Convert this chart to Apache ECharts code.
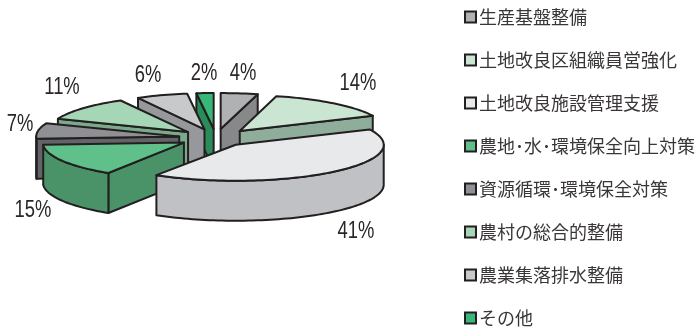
<!DOCTYPE html>
<html>
<head>
<meta charset="utf-8">
<style>html,body{margin:0;padding:0;background:#fff}#chart{width:699px;height:327px}</style>
<script src="https://cdn.jsdelivr.net/npm/echarts@6/dist/echarts.min.js"></script>
</head>
<body>
<div id="chart"></div>
<script>
// Budget shares by programme, in percent, clockwise from twelve o'clock.
const categories = ['生産基盤整備', '土地改良区組織員営強化', '土地改良施設管理支援', '農地･水･環境保全向上対策', '資源循環･環境保全対策', '農村の総合的整備', '農業集落排水整備', 'その他'];
const shares = [4, 14, 41, 15, 7, 11, 6, 2];
const topColors = ['#b0b1b3', '#cbe5d3', '#e8e9eb', '#60c08a', '#8f9093', '#a5d6b5', '#c8c9cb', '#38b878'];
const wallColors = ['#87888a', '#8eae9b', '#c0c1c4', '#4a9369', '#636467', '#7aa98c', '#97989b', '#2a8c58'];

// Painter's order of the slices, far side first.
const paintRank = [1, 3, 7, 6, 5, 4, 2, 0];
// Horizontal radius and sideways pull per slice, and where each percent label sits.
const radiusX = [149, 147, 148, 141, 143, 140, 138, 138];
const explodeX = [0.25, 0.25, 0.2, 0.25, 0.25, 0.25, 0.25, 0.25];
const labelAt = [[243, 74], [358, 84], [356, 232], [33, 211], [20, 125], [62, 88], [148, 76], [204, 74]];

const CX = 216, CY = 138, RY = 36, DEPTH = 40, EXPLODE_Y = 0.25, OUTLINE = '#231f20', LINE = 2;
const total = shares.reduce((a, b) => a + b, 0);
const toAngle = s => s / total * Math.PI * 2;

function renderSlice(i, api) {
  const start = toAngle(shares.slice(0, i).reduce((a, b) => a + b, 0));
  const end = start + toAngle(api.value(0));
  const mid = (start + end) / 2;
  const rx = radiusX[i];
  const ax = CX + explodeX[i] * 149 * Math.sin(mid);
  const ay = CY - EXPLODE_Y * RY * Math.cos(mid);
  const rim = t => [ax + rx * Math.sin(t), ay - RY * Math.cos(t)];
  const drop = p => [p[0], p[1] + DEPTH];
  const arc = (a, b) => {
    const pts = [];
    const n = Math.max(2, Math.ceil((b - a) / 0.03));
    for (let k = 0; k <= n; k++) pts.push(rim(a + (b - a) * k / n));
    return pts;
  };
  const apex = [ax, ay];
  const children = [];
  const poly = (points, fill) => children.push({
    type: 'polygon', shape: { points },
    style: { fill, stroke: OUTLINE, lineWidth: LINE, lineJoin: 'round' }
  });

  // Radial walls, kept only when they face the viewer.
  const inner = rim(mid);
  [start, end].forEach(t => {
    const q = rim(t);
    let nx = -(q[1] - ay), ny = q[0] - ax;
    if (nx * (inner[0] - ax) + ny * (inner[1] - ay) > 0) { nx = -nx; ny = -ny; }
    if (ny > 0) poly([apex, q, drop(q), drop(apex)], wallColors[i]);
  });

  // Outer curved wall: only the part on the near half of the rim.
  const from = Math.max(start, Math.PI / 2), to = Math.min(end, Math.PI * 1.5);
  if (to > from) {
    const edge = arc(from, to);
    poly(edge.concat(edge.map(drop).reverse()), wallColors[i]);
  }

  // Top face.
  poly([apex].concat(arc(start, end)), topColors[i]);

  // Percent label, drawn tall and condensed.
  children.push({
    type: 'text',
    x: labelAt[i][0], y: labelAt[i][1], scaleX: 0.8,
    style: {
      text: api.value(0) + '%',
      fill: '#2a2627', align: 'center', verticalAlign: 'middle',
      font: '23px "Liberation Sans", sans-serif'
    }
  });
  return { type: 'group', children };
}

const chart = echarts.init(document.getElementById('chart'), null, { renderer: 'canvas' });
chart.setOption({
  animation: false,
  backgroundColor: '#fff',
  legend: {
    orient: 'vertical', left: 464, top: 8, selectedMode: false,
    itemWidth: 11, itemHeight: 11, itemGap: 25, padding: 0,
    textStyle: { fontFamily: '"Noto Sans CJK JP"', fontSize: 18, color: '#3a3637', padding: [0, 0, 0, -2] },
    data: categories.map((name, i) => ({
      name, icon: 'rect',
      itemStyle: { color: topColors[i], borderColor: OUTLINE, borderWidth: 2 }
    }))
  },
  series: categories.map((name, i) => ({
    type: 'custom', name, coordinateSystem: 'none', z: 2 + paintRank[i],
    silent: true, clip: false,
    itemStyle: { color: topColors[i] },
    data: [[shares[i]]],
    renderItem: (params, api) => renderSlice(i, api)
  }))
});
</script>
</body>
</html>
